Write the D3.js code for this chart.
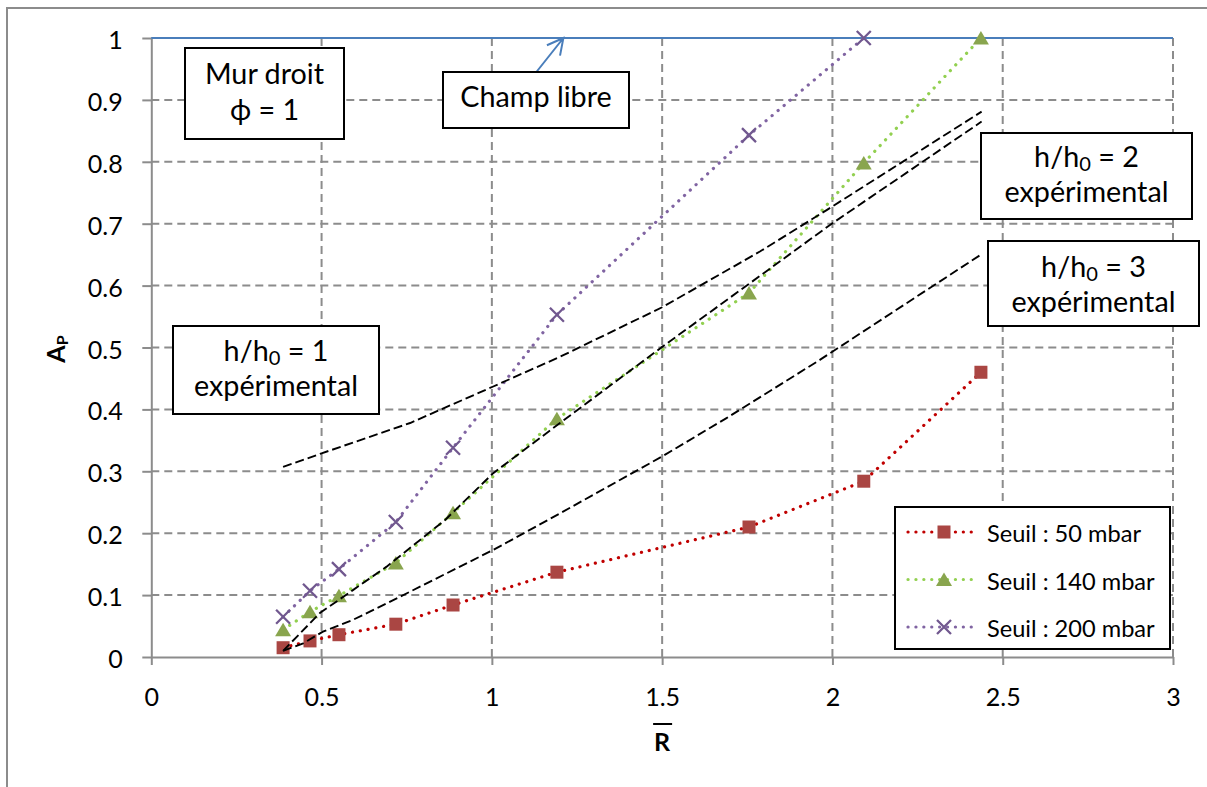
<!DOCTYPE html>
<html><head><meta charset="utf-8">
<script src="https://cdn.jsdelivr.net/npm/d3@7"></script>
<style>body{margin:0;background:#fff;} svg{display:block;}</style>
</head><body>
<svg id="chart" width="1207" height="787"></svg>
<script>
// ---------- data ----------
const rBar     = [0.387, 0.466, 0.551, 0.718, 0.886, 1.191, 1.755, 2.092, 2.436];
const seuil50  = [0.015, 0.026, 0.036, 0.053, 0.084, 0.137, 0.210, 0.284, 0.460];
const seuil140 = [0.044, 0.073, 0.099, 0.152, 0.233, 0.385, 0.588, 0.798, 1.000];
const seuil200 = [0.065, 0.107, 0.142, 0.218, 0.338, 0.553, 0.843, 1.000];
const seriesNames = ["Seuil : 50 mbar", "Seuil : 140 mbar", "Seuil : 200 mbar"];

// experimental curves (black dashed)
const exp1X = [0.387, 0.500, 0.760, 1.004, 1.200, 1.500, 1.787, 1.983, 2.438];
const exp1Y = [0.307, 0.329, 0.378, 0.437, 0.485, 0.565, 0.655, 0.722, 0.881];
const exp2X = [0.387, 0.495, 0.592, 0.691, 0.862, 1.004, 1.200, 1.500, 1.758, 1.998, 2.438];
const exp2Y = [0.010, 0.071, 0.108, 0.146, 0.221, 0.297, 0.378, 0.501, 0.604, 0.700, 0.865];
const exp3X = [0.387, 0.446, 0.504, 0.592, 0.700, 1.004, 1.200, 1.500, 1.689, 1.963, 2.433];
const exp3Y = [0.010, 0.022, 0.041, 0.060, 0.089, 0.173, 0.232, 0.324, 0.386, 0.480, 0.649];

// champ libre (free field) line
const champX = [0, 3];
const champY = [1, 1];
const champArrowTip = [1.21, 1.0];

const xTicks = [0, 0.5, 1, 1.5, 2, 2.5, 3];
const yTicks = [0, 0.1, 0.2, 0.3, 0.4, 0.5, 0.6, 0.7, 0.8, 0.9, 1];

const boxTexts = [
  ["Mur droit", "ϕ = 1"],
  ["Champ libre"],
  [["h/h", "0", " = 1"], "expérimental"],
  [["h/h", "0", " = 2"], "expérimental"],
  [["h/h", "0", " = 3"], "expérimental"]
];

// ---------- setup ----------
const svg = d3.select("#chart");
const FONT = "Lato, 'Open Sans', sans-serif";
const GRID = "#8c8c8c";

svg.append("rect").attr("width", 1207).attr("height", 787).attr("fill", "#fff");
svg.append("rect").attr("x", 7).attr("y", 8).attr("width", 1220).attr("height", 800)
  .attr("fill", "none").attr("stroke", GRID).attr("stroke-width", 2);

function fitSize(text, target, weight) {
  const t = svg.append("text").attr("font-family", FONT).attr("font-weight", weight || "normal")
    .attr("font-size", 100).text(text);
  const w = t.node().getComputedTextLength();
  t.remove();
  return 100 * target / w;
}
const tickFS = fitSize("2.5", 35);
const boxFS = fitSize("expérimental", 164);
const legFS = fitSize("Seuil : 50 mbar", 154);

const x = d3.scaleLinear().domain([0, 3]).range([151.3, 1173]);
const y = d3.scaleLinear().domain([0, 1]).range([657, 38]);

// ---------- grid ----------
const grid = svg.append("g");
grid.selectAll("line.h").data(yTicks.filter(d => d > 0)).join("line").attr("class", "h")
  .attr("x1", x(0)).attr("x2", x(3)).attr("y1", d => y(d)).attr("y2", d => y(d))
  .attr("stroke", GRID).attr("stroke-width", 2).attr("stroke-dasharray", "8 5");
grid.selectAll("line.v").data(xTicks.filter(d => d > 0)).join("line").attr("class", "v")
  .attr("y1", y(0)).attr("y2", y(1)).attr("x1", d => x(d)).attr("x2", d => x(d))
  .attr("stroke", GRID).attr("stroke-width", 2).attr("stroke-dasharray", "8 5");

// ---------- axes ----------
const fmt = d3.format("~g");
svg.append("g").attr("transform", `translate(${x(0)},0)`)
  .call(d3.axisLeft(y).tickValues(yTicks).tickSize(9).tickSizeOuter(0).tickPadding(19.5).tickFormat(fmt))
  .call(g => {
    g.select(".domain").attr("stroke", GRID).attr("stroke-width", 2);
    g.selectAll(".tick line").attr("stroke", GRID).attr("stroke-width", 2);
    g.selectAll(".tick text").attr("font-family", FONT).attr("font-size", tickFS)
      .attr("fill", "#000").attr("dy", null).attr("y", 10.5);
  });
svg.append("g").attr("transform", `translate(0,${y(0)})`)
  .call(d3.axisBottom(x).tickValues(xTicks).tickSize(8).tickSizeOuter(0).tickFormat(fmt))
  .call(g => {
    g.select(".domain").attr("stroke", GRID).attr("stroke-width", 2);
    g.selectAll(".tick line").attr("stroke", GRID).attr("stroke-width", 2);
    g.selectAll(".tick text").attr("font-family", FONT).attr("font-size", tickFS)
      .attr("fill", "#000").attr("dy", null).attr("y", 49);
  });

// axis titles
const yt = svg.append("text").attr("transform", "translate(65,349) rotate(-90)")
  .attr("text-anchor", "middle").attr("font-family", FONT).attr("font-weight", "bold")
  .attr("font-size", 25).attr("fill", "#000");
yt.append("tspan").text("A");
yt.append("tspan").attr("font-size", 16).attr("dy", 3).text("P");

const xt = svg.append("text").attr("x", (x(0) + x(3)) / 2).attr("y", 751)
  .attr("text-anchor", "middle").attr("font-family", FONT).attr("font-weight", "bold")
  .attr("font-size", 25).attr("fill", "#000").text("R");
const xb = xt.node().getBBox();
svg.append("line").attr("x1", xb.x - 1).attr("x2", xb.x + xb.width + 1)
  .attr("y1", 724).attr("y2", 724).attr("stroke", "#000").attr("stroke-width", 2);

// ---------- champ libre line ----------
const line = d3.line().x(d => x(d[0])).y(d => y(d[1]));
svg.append("path").datum(d3.zip(champX, champY)).attr("d", line)
  .attr("fill", "none").attr("stroke", "#4a7ebb").attr("stroke-width", 2.2);

// ---------- series ----------
const series = [
  { name: seriesNames[0], data: d3.zip(rBar, seuil50), color: "#c00000", marker: "square", mColor: "#aa4643" },
  { name: seriesNames[1], data: d3.zip(rBar, seuil140), color: "#92d050", marker: "triangle", mColor: "#89a54e" },
  { name: seriesNames[2], data: d3.zip(rBar.slice(0, seuil200.length), seuil200), color: "#8064a2", marker: "x", mColor: "#71588f" }
];

function drawMarker(g, type, color, cx, cy) {
  if (type === "square") {
    g.append("rect").attr("x", cx - 6.5).attr("y", cy - 6.5).attr("width", 13).attr("height", 13).attr("fill", color);
  } else if (type === "triangle") {
    g.append("path").attr("d", `M${cx},${cy - 7} L${cx + 8},${cy + 6.5} L${cx - 8},${cy + 6.5} Z`).attr("fill", color);
  } else {
    g.append("path").attr("d", `M${cx - 7},${cy - 7} L${cx + 7},${cy + 7} M${cx - 7},${cy + 7} L${cx + 7},${cy - 7}`)
      .attr("stroke", color).attr("stroke-width", 2.3).attr("fill", "none");
  }
}

const sg = svg.append("g");
series.forEach(s => {
  sg.append("path").datum(s.data).attr("d", line).attr("fill", "none")
    .attr("stroke", s.color).attr("stroke-width", 3.2).attr("stroke-linecap", "round")
    .attr("stroke-dasharray", "0.1 7.8");
});
series.forEach(s => {
  const mg = sg.append("g");
  s.data.forEach(d => drawMarker(mg, s.marker, s.mColor, x(d[0]), y(d[1])));
});

// ---------- experimental dashed curves ----------
[[exp1X, exp1Y], [exp2X, exp2Y], [exp3X, exp3Y]].forEach(([xs, ys]) => {
  svg.append("path").datum(d3.zip(xs, ys)).attr("d", line).attr("fill", "none")
    .attr("stroke", "#000").attr("stroke-width", 1.9).attr("stroke-dasharray", "9 4");
});

// ---------- arrow for champ libre ----------
const ax0 = 536, ay0 = 72.5;
const tipX = x(champArrowTip[0]), tipY = y(champArrowTip[1]);
const ang = Math.atan2(tipY - ay0, tipX - ax0);
const aL = 18, aA = Math.PI / 6.5;
svg.append("path")
  .attr("d", `M${ax0},${ay0} L${tipX},${tipY} M${tipX - aL * Math.cos(ang - aA)},${tipY - aL * Math.sin(ang - aA)} L${tipX},${tipY} L${tipX - aL * Math.cos(ang + aA)},${tipY - aL * Math.sin(ang + aA)}`)
  .attr("fill", "none").attr("stroke", "#4a7ebb").attr("stroke-width", 2);

// ---------- annotation boxes ----------
const boxLayout = [
  { x: 185, y: 48, w: 159, h: 91, base: [84, 120] },
  { x: 443, y: 72, w: 186, h: 56, base: [107] },
  { x: 173, y: 326, w: 206, h: 88, base: [361, 396] },
  { x: 981, y: 133, w: 211, h: 86, base: [167, 202] },
  { x: 988, y: 241, w: 211, h: 85, base: [277, 312] }
];
boxLayout.forEach((b, i) => {
  const g = svg.append("g");
  g.append("rect").attr("x", b.x).attr("y", b.y).attr("width", b.w).attr("height", b.h)
    .attr("fill", "#fff").attr("stroke", "#000").attr("stroke-width", 2);
  boxTexts[i].forEach((ln, j) => {
    const t = g.append("text").attr("x", b.x + b.w / 2).attr("y", b.base[j])
      .attr("text-anchor", "middle").attr("font-family", FONT).attr("font-size", boxFS).attr("fill", "#000");
    if (Array.isArray(ln)) {
      t.append("tspan").text(ln[0]);
      t.append("tspan").attr("font-size", boxFS * 0.7).attr("dy", 4).text(ln[1]);
      t.append("tspan").attr("dy", -4).text(ln[2]);
    } else {
      t.text(ln);
    }
  });
});

// ---------- legend ----------
const lg = svg.append("g");
lg.append("rect").attr("x", 895).attr("y", 507).attr("width", 275).attr("height", 142)
  .attr("fill", "#fff").attr("stroke", "#000").attr("stroke-width", 2);
series.forEach((s, i) => {
  const cy = 532 + i * 47.5;
  lg.append("line").attr("x1", 908).attr("x2", 977).attr("y1", cy).attr("y2", cy)
    .attr("stroke", s.color).attr("stroke-width", 3.2).attr("stroke-linecap", "round")
    .attr("stroke-dasharray", "0.1 7.8");
  drawMarker(lg, s.marker, s.mColor, 944, cy);
  lg.append("text").attr("x", 987).attr("y", cy + 10).attr("font-family", FONT)
    .attr("font-size", legFS).attr("fill", "#000").text(s.name);
});
</script>
</body></html>
